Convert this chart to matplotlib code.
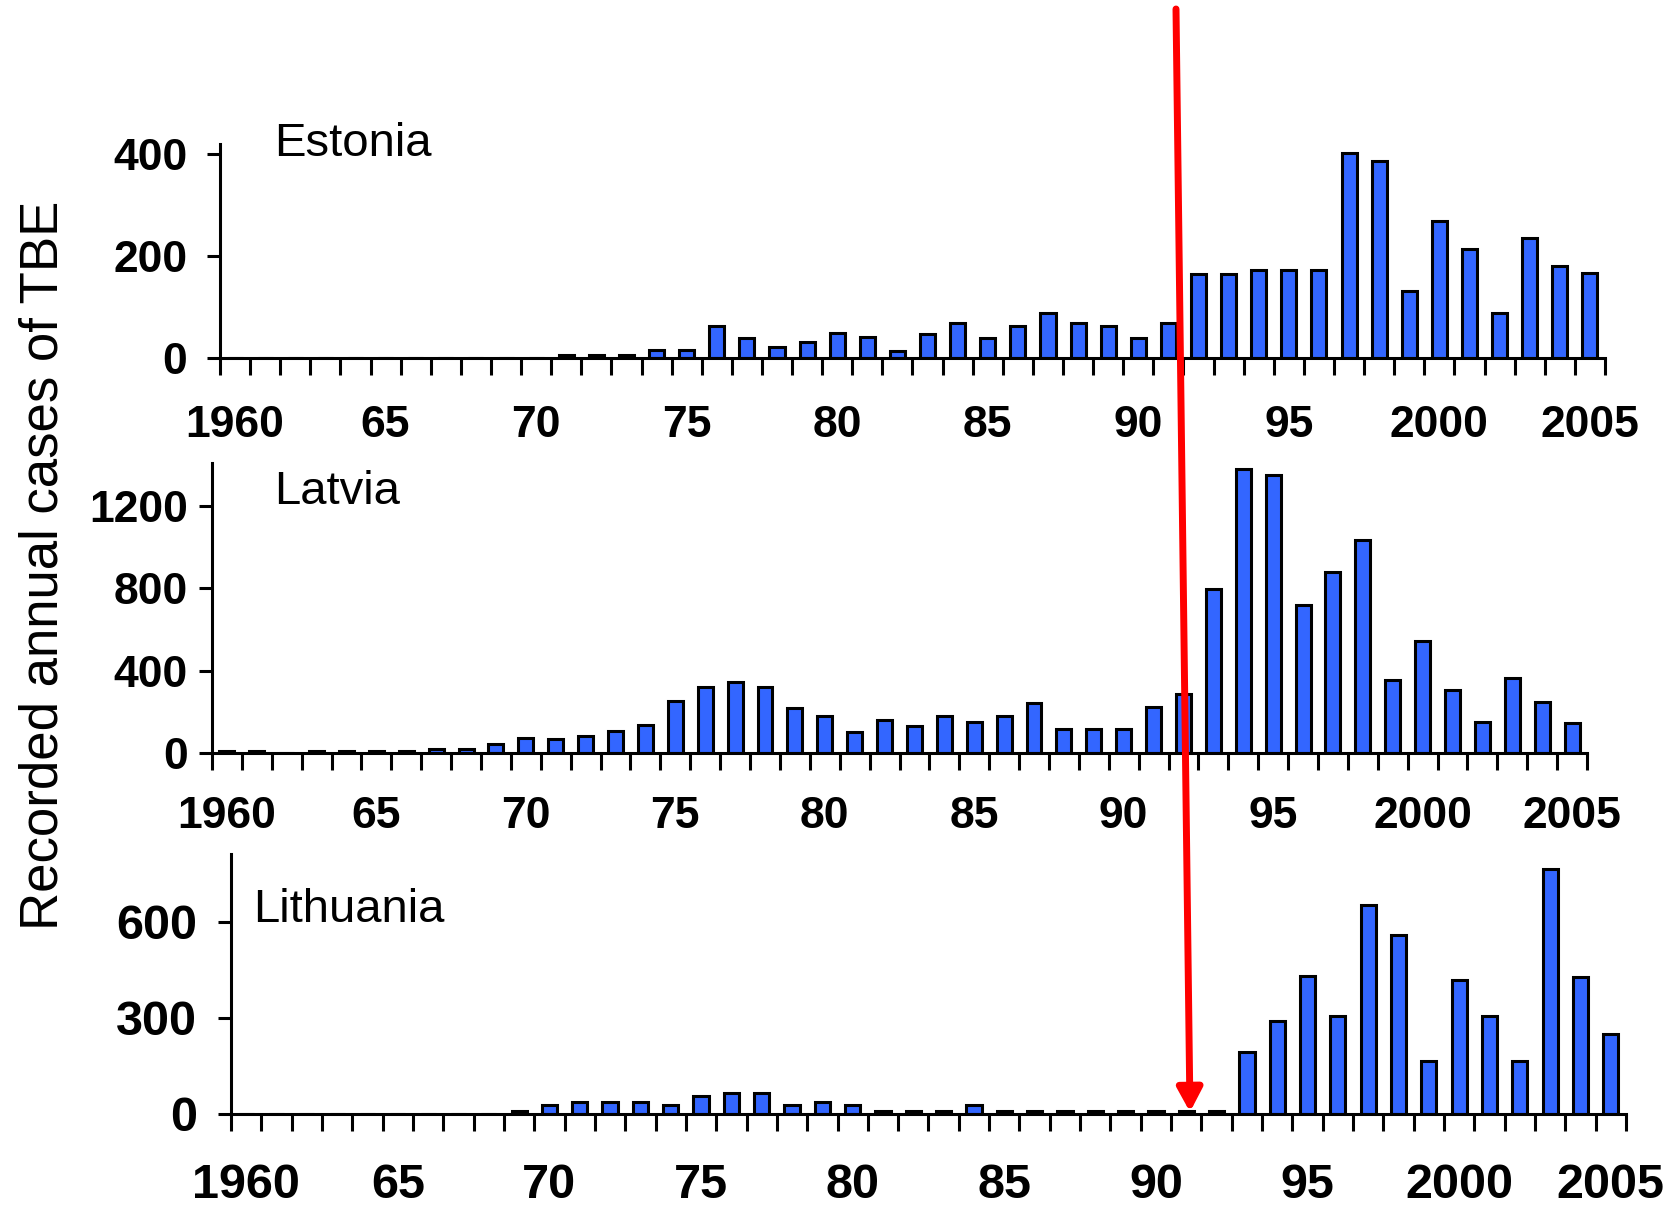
import matplotlib.pyplot as plt
import numpy as np
from matplotlib.patches import FancyArrowPatch

plt.rcParams['font.family'] = ['Liberation Sans', 'DejaVu Sans']

years = np.arange(1960, 2006)

estonia = [0, 0, 0, 0, 0, 0, 0, 0, 0, 0,
           0, 6, 6, 6, 15, 15, 62, 39, 22, 30,
           48, 40, 14, 47, 69, 39, 62, 87, 69, 62,
           39, 69, 164, 164, 173, 173, 173, 403, 386, 131,
           268, 213, 87, 236, 181, 167]
latvia = [8, 8, 0, 8, 8, 8, 8, 16, 16, 40,
          73, 65, 80, 107, 135, 252, 320, 345, 320, 216,
          179, 99, 159, 130, 179, 148, 179, 241, 115, 115,
          115, 223, 285, 797, 1379, 1354, 717, 878, 1036, 354,
          546, 304, 148, 366, 249, 145]
lithuania = [0, 0, 0, 0, 0, 0, 0, 0, 0, 8,
             26, 36, 36, 36, 26, 54, 65, 65, 26, 36,
             26, 8, 8, 8, 26, 8, 8, 8, 8, 8,
             8, 8, 8, 192, 289, 429, 304, 652, 557, 164,
             416, 304, 164, 765, 426, 250]

label_years = [1960, 1965, 1970, 1975, 1980, 1985, 1990, 1995, 2000, 2005]
label_text = ['1960', '65', '70', '75', '80', '85', '90', '95', '2000', '2005']

W, H = 1671, 1207
fig = plt.figure(figsize=(W / 100, H / 100), dpi=100)

# name, values, [left, right, zero, top] in pixels, ylim, yticks, ypad, xpad, title pos, label size
panels = [
    ('Estonia', estonia, (220, 1605, 357.7, 144), 420, [0, 200, 400], 14, 22, (274, 156), 32),
    ('Latvia', latvia, (212, 1587, 752.7, 463), 1410, [0, 400, 800, 1200], 8, 19, (274, 504), 32),
    ('Lithuania', lithuania, (231, 1626, 1113.5, 854), 811, [0, 300, 600], 15, 24, (253, 922), 35),
]

for name, vals, (l, r, z, t), ytop, yt, ypad, xpad, (tx, ty), fs in panels:
    ax = fig.add_axes([l / W, 1 - z / H, (r - l) / W, (z - t) / H])
    ax.bar(years, vals, width=0.5, color='#3366FF', edgecolor='black', linewidth=2.2, zorder=2)
    ax.set_xlim(1959.5, 2005.5)
    ax.set_ylim(0, ytop)
    ax.set_yticks(yt)
    ax.set_xticks(np.arange(1959.5, 2006, 1.0))
    ax.set_xticks(label_years, label_text, minor=True)
    ax.tick_params(axis='x', which='major', length=12, width=2.2, direction='out', labelbottom=False)
    ax.tick_params(axis='x', which='minor', length=0, pad=xpad + 12, labelsize=fs)
    ax.tick_params(axis='y', length=9.5, width=2.2, direction='out', pad=ypad, labelsize=fs)
    for lab in ax.get_xticklabels(minor=True) + ax.get_yticklabels():
        lab.set_fontweight('bold')
    for s in ['top', 'right']:
        ax.spines[s].set_visible(False)
    for s in ['left', 'bottom']:
        ax.spines[s].set_linewidth(2.2)
    ax.patch.set_alpha(0)
    fig.text(tx / W, 1 - ty / H, name, fontsize=34, ha='left', va='baseline')

fig.text(0.026, 1 - 565 / H, 'Recorded annual cases of TBE', fontsize=38,
         rotation=90, ha='center', va='center')

arrow = FancyArrowPatch((1176 / W, 1 - 9 / H), (1190 / W, 1 - 1112 / H),
                        transform=fig.transFigure,
                        arrowstyle='-|>,head_length=14,head_width=7.5',
                        mutation_scale=1, color='#FF0000', lw=5,
                        shrinkA=0, shrinkB=0, zorder=10)
fig.add_artist(arrow)

fig.savefig('out.png', dpi=100)
